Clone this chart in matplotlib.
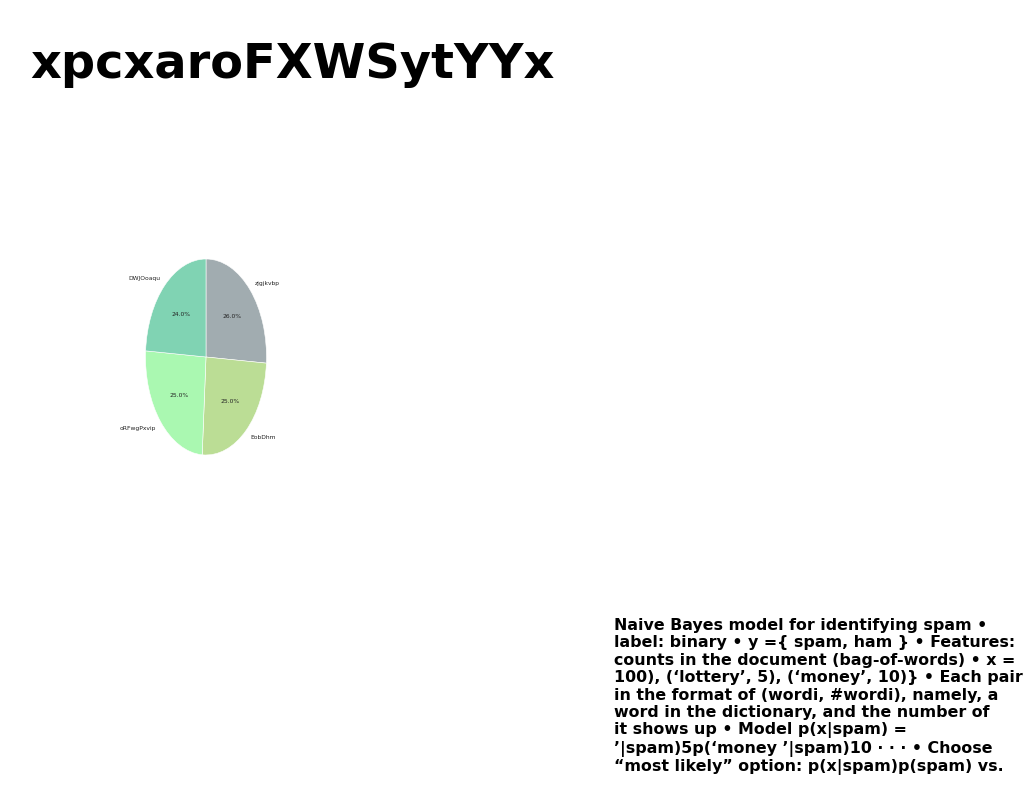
import matplotlib
matplotlib.use("Agg")
import matplotlib.pyplot as plt

labels = ["zjgjkvbp", "EobDhm", "oRFwgPxvip", "DWJOoaqu"]
values = [26.0, 25.0, 25.0, 24.0]
colors = ["#A1ACB0", "#BBDD95", "#AAF8B1", "#80D3B3"]
title = "xpcxaroFXWSytYYx"
note = ("Naive Bayes model for identifying spam \u2022\n"
        "label: binary \u2022 y ={ spam, ham } \u2022 Features:\n"
        "counts in the document (bag-of-words) \u2022 x =\n"
        "100), (\u2018lottery\u2019, 5), (\u2018money\u2019, 10)} \u2022 Each pair\n"
        "in the format of (wordi, #wordi), namely, a\n"
        "word in the dictionary, and the number of\n"
        "it shows up \u2022 Model p(x|spam) =\n"
        "\u2019|spam)5p(\u2018money \u2019|spam)10 \u00b7 \u00b7 \u00b7 \u2022 Choose\n"
        "\u201cmost likely\u201d option: p(x|spam)p(spam) vs.")

W, H = 1024, 788
fig = plt.figure(figsize=(W / 100, H / 100), dpi=100)

fig.text(30 / W, 1 - 64 / H, title, fontsize=34.5, fontweight="bold",
         ha="left", va="center", family="DejaVu Sans")

# pie axes: ellipse ~121 px wide, 196 px tall, centre ~(206, 357)
cx, cy, pw, ph = 206, 357, 121, 196
ax = fig.add_axes([(cx - pw / 2) / W, 1 - (cy + ph / 2) / H, pw / W, ph / H])
tp = dict(fontsize=4.3, family="DejaVu Sans", color="#222222")
wedges, texts, autotexts = ax.pie(
    values, labels=labels, colors=colors, startangle=90, counterclock=False,
    autopct="%1.1f%%", pctdistance=0.6, labeldistance=1.1,
    wedgeprops=dict(edgecolor="white", linewidth=0.4),
    textprops=tp)
ax.set_xlim(-1, 1)
ax.set_ylim(-1, 1)
ax.set_aspect("auto")

fig.text(614 / W, 1 - 618 / H, note, fontsize=11.4, fontweight="bold",
         ha="left", va="top", linespacing=1.2, family="DejaVu Sans")

fig.savefig("out.png", dpi=100)
